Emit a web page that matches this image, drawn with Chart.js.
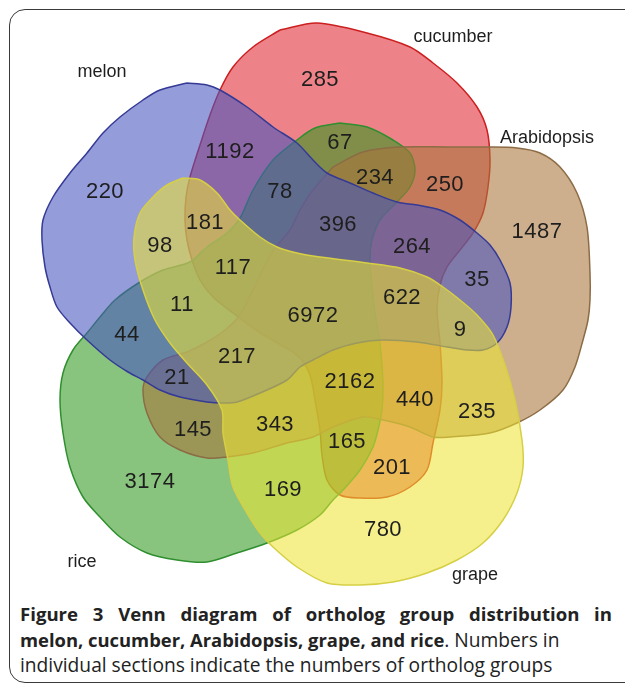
<!DOCTYPE html>
<html>
<head>
<meta charset="utf-8">
<script src="https://cdn.jsdelivr.net/npm/chart.js@4/dist/chart.umd.min.js"></script>
<style>
    html, body { margin: 0; padding: 0; background: #fff; }
    body { width: 625px; height: 683px; position: relative; overflow: hidden; }
    #marco {
        position: absolute; left: 9px; top: 9px; width: 640px; height: 672px;
        border: 1.5px solid #3a3a3a; border-radius: 16px;
    }
    #grafico { position: absolute; left: 0; top: 0; width: 625px; height: 600px; }
    #leyenda {
        position: absolute; left: 20px; top: 601px; width: 592px;
        font-family: "Open Sans", sans-serif; font-size: 19.2px; color: #222; line-height: 25.5px;
        white-space: nowrap;
    }
    #leyenda .linea1 { text-align: justify; text-align-last: justify; font-weight: 700; font-size: 18.6px; }
    #leyenda b { font-weight: 700; font-size: 18.4px; }
</style>
</head>
<body>
<div id="marco"></div>
<div id="grafico"><canvas id="myChart" width="625" height="600"></canvas></div>
<div id="leyenda">
    <div class="linea1">Figure 3 Venn diagram of ortholog group distribution in</div>
    <div><b>melon, cucumber, Arabidopsis, grape, and rice</b>. Numbers in</div>
    <div>individual sections indicate the numbers of ortholog groups</div>
</div>
<script>
// CONJUNTOS
var nombresConjuntos = ['grape', 'melon', 'Arabidopsis', 'rice', 'cucumber'];
var posNombres = [[475, 575], [102, 72], [547, 138], [82, 562], [453, 37]];

// contornos de cada conjunto (x, y en pixeles del dibujo)
var contornoGrape = [[183,178],[200,180],[217,193],[230,210],[240,220],[260,237],[277,247],[297,253],[320,257],[367,263],[400,268],[427,277],[443,287],[460,300],[477,315],[493,335],[505,365],[515,400],[522,440],[523,467],[517,493],[503,520],[483,543],[457,560],[427,573],[393,582],[360,585],[327,583],[297,567],[273,547],[260,533],[247,513],[233,487],[228,460],[223,433],[222,410],[207,385],[187,363],[170,343],[155,320],[143,290],[135,260],[134,237],[140,213],[153,197],[167,185],[183,178]];
var contornoMelon = [[187,83],[207,85],[220,90],[247,107],[273,127],[297,143],[313,160],[327,173],[350,183],[373,193],[397,202],[417,205],[440,210],[460,220],[477,233],[490,245],[500,260],[510,283],[511,307],[507,327],[497,343],[483,350],[467,350],[447,347],[417,342],[383,340],[357,343],[333,350],[313,360],[300,367],[287,380],[260,393],[237,402],[223,403],[207,402],[180,397],[160,390],[143,380],[128,372],[110,360],[87,340],[70,323],[57,307],[50,287],[45,267],[42,240],[43,220],[53,197],[70,173],[87,153],[103,133],[120,117],[143,100],[160,90],[187,83]];
var contornoArabidopsis = [[333,167],[363,152],[400,147],[450,147],[487,147],[517,148],[540,153],[560,167],[577,193],[587,227],[590,273],[590,300],[588,320],[583,340],[575,367],[563,390],[540,410],[517,423],[490,433],[450,437],[433,437],[410,427],[383,420],[363,417],[333,427],[313,437],[287,443],[253,453],[227,457],[207,458],[180,450],[160,437],[147,413],[143,390],[147,377],[163,360],[187,352],[207,342],[225,330],[240,315],[253,290],[265,265],[275,248],[290,230],[300,210],[313,190],[333,167]];
var contornoRice = [[340,123],[367,127],[393,140],[410,153],[415,170],[410,187],[397,202],[380,220],[372,240],[370,260],[372,287],[375,313],[380,343],[383,383],[382,410],[378,430],[373,447],[360,470],[343,490],[333,500],[320,515],[297,530],[267,543],[237,553],[207,562],[177,560],[147,553],[120,537],[100,517],[83,497],[70,467],[63,433],[60,400],[63,373],[73,350],[87,333],[100,317],[115,300],[140,282],[163,270],[190,262],[207,247],[227,233],[240,218],[253,190],[273,160],[297,140],[315,128],[340,123]];
var contornoCucumber = [[280,30],[317,23],[367,33],[410,47],[433,63],[457,83],[477,107],[487,130],[490,160],[488,187],[483,213],[473,233],[460,250],[447,267],[440,285],[437,310],[440,343],[442,383],[440,410],[433,443],[427,470],[410,487],[387,497],[360,498],[340,495],[327,480],[322,455],[320,430],[315,400],[310,375],[300,358],[283,346],[262,334],[245,322],[233,313],[213,297],[200,280],[192,260],[187,240],[185,220],[186,197],[190,177],[200,145],[210,115],[220,90],[233,67],[253,47],[280,30]];

// REGIONES: numero de grupos y su sitio
var conteos = [285, 1192, 67, 220, 78, 234, 250, 181, 396, 264, 1487, 98, 117, 35, 11, 6972, 622, 9, 44, 217, 21, 2162, 440, 235, 145, 343, 165, 201, 3174, 169, 780];
var posConteos = [[320,80],[230,152],[340,143],[105,192],[280,192],[375,178],[445,185],[205,223],[338,225],[412,247],[537,232],[160,246],[233,268],[477,280],[182,305],[313,316],[402,298],[460,330],[127,335],[237,357],[177,378],[350,382],[415,400],[477,412],[193,430],[275,425],[347,442],[392,468],[150,482],[283,490],[383,530]];

var rellenos = ['rgba(238,228,50,0.56)', 'rgba(70,85,192,0.58)', 'rgba(168,118,58,0.58)', 'rgba(45,150,25,0.56)', 'rgba(222,25,35,0.54)'];
var bordes = ['#d6cf45', '#353a95', '#8c6c45', '#2f8f2f', '#cc1f1f'];
var contornos = [contornoGrape, contornoMelon, contornoArabidopsis, contornoRice, contornoCucumber];

function aPuntos(lista) {
    return lista.map(p => ({ x: p[0], y: p[1] }));
}

// dibuja los textos sobre los puntos que ya coloco Chart.js
const textos = {
    id: 'textos',
    afterDatasetsDraw(chart) {
        const ctx = chart.ctx;
        ctx.save();
        ctx.textAlign = 'center';
        ctx.textBaseline = 'middle';
        ctx.fillStyle = '#1e1e1e';
        var metaConteos = chart.getDatasetMeta(5);
        ctx.font = '22px "Liberation Sans", Arial, sans-serif';
        ctx.letterSpacing = '0.5px';
        metaConteos.data.forEach((el, i) => {
            ctx.fillText(String(conteos[i]), el.x, el.y);
        });
        var metaNombres = chart.getDatasetMeta(6);
        ctx.font = '18px "Liberation Sans", Arial, sans-serif';
        ctx.letterSpacing = '0px';
        metaNombres.data.forEach((el, i) => {
            ctx.fillText(nombresConjuntos[i], el.x, el.y);
        });
        ctx.restore();
    }
};

var datasets = [];
for (var i = 0; i < contornos.length; i++) {
    datasets.push({
        label: nombresConjuntos[i],
        data: aPuntos(contornos[i]),
        showLine: true,
        fill: 'shape',
        tension: 0.3,
        backgroundColor: rellenos[i],
        borderColor: bordes[i],
        borderWidth: 1.5,
        pointRadius: 0
    });
}
datasets.push({ label: 'conteos', data: aPuntos(posConteos), pointRadius: 0, showLine: false });
datasets.push({ label: 'nombres', data: aPuntos(posNombres), pointRadius: 0, showLine: false });

const ctx = document.getElementById('myChart').getContext('2d');
var myChart = new Chart(ctx, {
    type: 'scatter',
    data: { datasets: datasets },
    options: {
        responsive: false,
        animation: false,
        layout: { padding: 0 },
        plugins: { legend: { display: false }, tooltip: { enabled: false } },
        scales: {
            x: { type: 'linear', min: 0, max: 625, display: false },
            y: { type: 'linear', min: 0, max: 600, reverse: true, display: false }
        }
    },
    plugins: [textos]
});
</script>
</body>
</html>
